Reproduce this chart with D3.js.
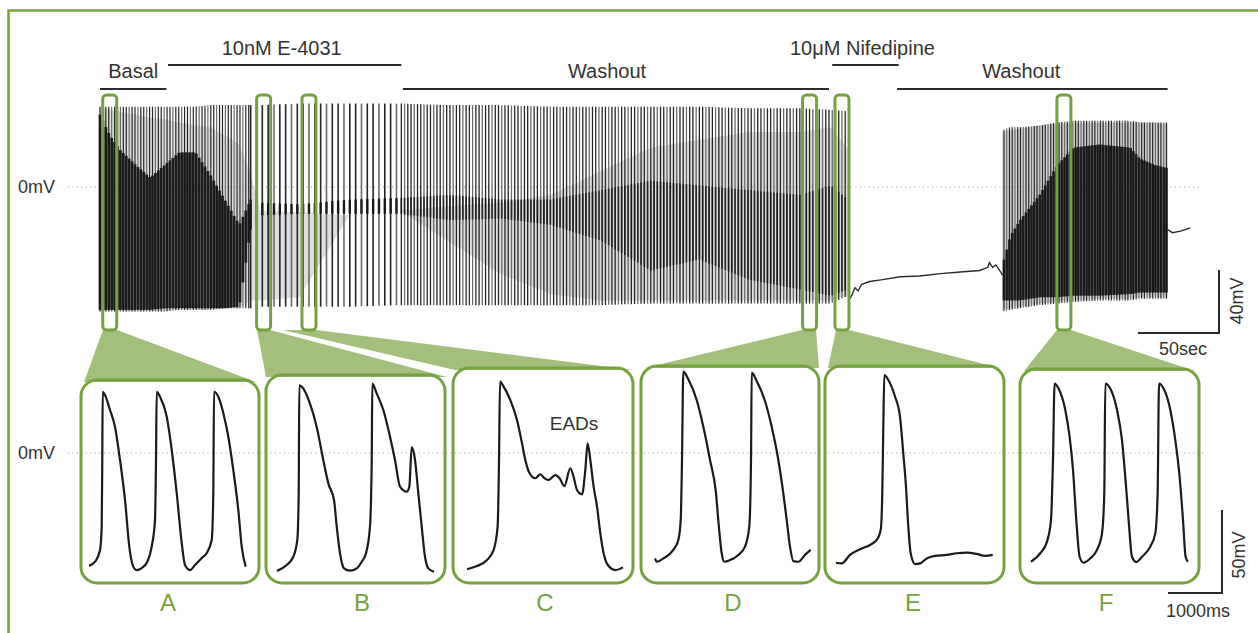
<!DOCTYPE html>
<html>
<head>
<meta charset="utf-8">
<script src="https://cdn.jsdelivr.net/npm/d3@7"></script>
<style>
  body { margin: 0; background: #fff; }
  text { font-family: "Liberation Sans", Arial, sans-serif; }
</style>
</head>
<body>
<svg id="fig" width="1258" height="633"></svg>
<script>
// ---- treatments (seconds on the long recording)
const treatmentNames = ["Basal", "10nM E-4031", "Washout", "10\u03bcM Nifedipine", "Washout"];
const treatmentStart = [0, 42, 187, 452, 492];
const treatmentEnd = [41, 186, 450, 493, 659];

// ---- long recording, first run of beating: envelope samples (s, mV)
const burst1Time = [0, 6, 12, 22, 31, 40, 49, 59, 68, 77, 86, 93, 99, 123, 154, 185, 216, 247, 278, 309, 340, 370, 401, 432, 451, 462];
const burst1Peak = [51, 51, 51, 51, 51, 51, 51, 51, 52, 52, 52, 52, 52, 53, 53, 53, 52, 52, 51, 51, 51, 51, 50, 50, 49, 48];
const burst1Trough = [-79, -79, -79, -79, -79, -79, -78, -78, -78, -77, -77, -77, -76, -76, -76, -75, -75, -75, -75, -75, -74, -74, -74, -74, -74, -69];
const burst1DarkTop = [46, 33, 24, 14, 6, 14, 22, 22, 8, -8, -24, -8, -10, -11, -8, -7, -5, -8, -8, -2, 4, 1, -2, -5, 1, -8];
const burst1DarkBottom = [-78, -78, -78, -78, -78, -77, -77, -77, -77, -77, -76, -27, -18, -17, -17, -17, -21, -20, -24, -34, -53, -46, -59, -65, -69, -65];
const burst1GreyTop = [50, 49, 48, 46, 44, 43, 41, 39, 38, 33, 27, 8, -15, -16, -18, -15, -12, -10, -5, 10, 25, 30, 35, 35, 38, 24];
const burst1GreyBottom = [-79, -79, -79, -79, -79, -79, -78, -78, -78, -77, -77, -72, -72, -70, -18, -15, -35, -55, -68, -72, -72, -72, -72, -72, -72, -69];

// ---- quiescence under nifedipine (s, mV)
const quietTime = [462, 464, 466, 468, 470, 475, 482, 494, 506, 519, 531, 543, 548, 549, 551, 553, 556, 557];
const quietMv = [-72, -69, -64, -66, -62, -60, -59, -57, -56.5, -55, -54, -53, -51, -48, -51, -49.5, -54, -56];

// ---- second run of beating after washout
const burst2Time = [557, 562, 568, 580, 591, 601, 617, 636, 642, 651, 659];
const burst2Peak = [36, 38, 38, 39, 41, 42, 42, 42, 41, 41, 41];
const burst2Trough = [-79, -78, -77, -75, -74, -73, -72, -72, -71, -71, -71];
const burst2DarkTop = [-50, -31, -21, -5, 14, 25, 27, 25, 18, 14, 12];
const burst2DarkBottom = [-72, -72, -72, -70, -70, -69, -69, -68, -67, -67, -67];
const burst2GreyTop = [35, 36, 37, 39, 40, 41, 41, 41, 41, 41, 40];
const burst2GreyBottom = [-78, -77, -76, -74, -73, -72, -71, -71, -70, -70, -70];

// ---- trailing trace
const tailTime = [659, 662, 667, 673];
const tailMv = [-27, -29, -28, -26];

// ---- beating epochs (s) and beat interval (s)
const beatStart = [0, 93, 186, 558];
const beatEnd = [93, 186, 461, 659];
const beatInterval = [1.8, 3.6, 2.0, 1.7];

// ---- expanded snapshots
const snapshotLabels = ["A", "B", "C", "D", "E", "F"];
const snapshotTimes = [6, 101, 129, 438, 458, 595];

const panelATime = [0, 111, 204, 235, 246, 254, 296, 389, 481, 574, 667, 746, 809, 883, 976, 1080, 1161, 1222, 1241, 1254, 1315, 1439, 1532, 1624, 1717, 1778, 1870, 1963, 2087, 2180, 2272, 2302, 2315, 2395, 2487, 2580, 2672, 2765, 2828, 2902];
const panelAMv = [-68, -65.5, -58.4, -44.4, -4.2, 36.9, 34.9, 25.9, 15.8, -4.2, -28.3, -56.4, -67.5, -70.5, -69.3, -65.5, -56.4, -40.4, -4.2, 36.9, 33.9, 21.9, 1.8, -24.1, -54.2, -67.5, -70.5, -67.5, -63.3, -60.2, -52.4, -24.1, 36.9, 33.9, 24.1, 9.8, -10.2, -34.3, -56.4, -68.5];
const panelBTime = [0, 180, 302, 376, 402, 413, 487, 611, 735, 857, 950, 1056, 1106, 1167, 1241, 1352, 1476, 1569, 1648, 1722, 1754, 1765, 1846, 1969, 2093, 2185, 2278, 2402, 2450, 2495, 2556, 2617, 2680, 2741, 2802, 2908];
const panelBMv = [-71, -67.5, -62.5, -52.4, -24.3, 40.8, 38.8, 29.7, 15.7, -4.2, -18.3, -28.3, -44.4, -60.4, -69.5, -70.9, -69.5, -65.5, -60.4, -44.4, -4.2, 41.8, 35.9, 25.9, 9.8, -4.2, -20.3, -23.3, -20.3, 3.4, -4.2, -24.3, -44.4, -62.5, -69.5, -71.5];
const panelCTime = [0, 185, 370, 493, 567, 593, 611, 678, 802, 926, 1019, 1080, 1159, 1265, 1358, 1432, 1511, 1635, 1715, 1802, 1913, 1974, 2037, 2130, 2191, 2234, 2284, 2345, 2408, 2469, 2530, 2622, 2747, 2889];
const panelCMv = [-70, -68.1, -64.5, -58.4, -44.4, -4.2, 43, 40, 31.9, 19.9, 5.8, -4.2, -12.2, -15.2, -12.8, -15.2, -16.3, -13.3, -15.2, -19.9, -9.2, -14.3, -22.3, -24.9, -10.2, 5.8, -4.2, -20.3, -32.3, -48.4, -60.4, -68.1, -70.5, -68.9];
const panelDTime = [0, 31, 154, 339, 432, 476, 500, 524, 617, 772, 895, 1019, 1130, 1172, 1235, 1283, 1389, 1543, 1667, 1746, 1778, 1791, 1883, 2037, 2161, 2284, 2376, 2439, 2500, 2561, 2654, 2778, 2884];
const panelDMv = [-63.5, -65.5, -63.5, -58.4, -52.4, -40.4, -4.2, 49, 44.4, 31.9, 15.8, -4.2, -24.3, -40.4, -60.4, -65.5, -64.5, -61.4, -56.4, -44.4, -4.2, 48.4, 43.4, 31.3, 15.8, -4.2, -24.3, -40.4, -56.4, -65.1, -65.5, -61.4, -58.4];
const panelETime = [0, 106, 259, 444, 630, 754, 828, 857, 876, 895, 969, 1093, 1185, 1246, 1296, 1339, 1383, 1463, 1556, 1680, 1833, 2050, 2235, 2421, 2606, 2759, 2902];
const panelEMv = [-66.1, -66.5, -61.4, -58, -55.4, -52.4, -46.4, -24.3, 15.8, 47, 44, 34, 21.9, -0.2, -20.3, -44.4, -60.4, -66.9, -66.5, -63.5, -62, -61.4, -60.4, -60, -60.8, -62, -61.4];
const panelFTime = [0, 172, 296, 370, 407, 437, 511, 635, 715, 778, 839, 900, 974, 1098, 1222, 1315, 1357, 1376, 1468, 1593, 1685, 1746, 1808, 1870, 1950, 2056, 2209, 2302, 2345, 2371, 2456, 2580, 2672, 2752, 2815, 2863, 2906];
const panelFMv = [-65.5, -60.4, -53.4, -40.4, -4.2, 41.8, 38.8, 25.9, 9.8, -10.2, -40.4, -62.5, -66.1, -63.5, -58.4, -48.4, -24.3, 41.8, 38.8, 25.9, 7.8, -14.3, -40.4, -62.5, -65.7, -62.5, -56.4, -48.4, -24.3, 41.8, 38.8, 25.9, 7.8, -14.3, -40.4, -62.5, -65.5];

const panelTimes = [panelATime, panelBTime, panelCTime, panelDTime, panelETime, panelFTime];
const panelMvs = [panelAMv, panelBMv, panelCMv, panelDMv, panelEMv, panelFMv];

// ---- layout (pixels) and styles
const GREEN = "#74a23f", WEDGE = "#a3bf7c", INK = "#2a2a2a";
const panelBox = [[81, 380, 259, 583], [266, 375, 445, 583], [453, 368, 633, 583], [641, 366, 819, 583], [825, 366, 1004, 583], [1020, 369, 1199, 583]];
const traceStartX = [89, 277, 467, 655, 836, 1031];
const wedgeTop = [[103, 117], [257, 270], [283, 316], [802, 816], [836, 849], [1057, 1071]];
const wedgeFoot = [[84, 256], [266, 447], [455, 633], [645, 819], [828, 1000], [1024, 1195]];
const letterX = [168, 362, 545, 733, 913, 1106];
const labelDx = [0, -3, -9, -3, -11];

const svg = d3.select("#fig");

// frame
svg.append("rect").attr("x", 8.5).attr("y", 10.5).attr("width", 1300).attr("height", 700)
  .attr("fill", "none").attr("stroke", GREEN).attr("stroke-width", 2.5);

// scales of the long recording
const x = d3.scaleLinear().domain([0, 50]).range([100, 181]);
const y = d3.scaleLinear().domain([0, 40]).range([187, 124]);

// scales of the expanded snapshots
const px = d3.scaleLinear().domain([0, 1000]).range([0, 54]);
const py = d3.scaleLinear().domain([0, 50]).range([453, 370]);

// 0 mV references
svg.append("line").attr("x1", 68).attr("x2", 1200).attr("y1", y(0)).attr("y2", y(0))
  .attr("stroke", "#9a9a9a").attr("stroke-dasharray", "1,3.5");
svg.append("line").attr("x1", 68).attr("x2", 1205).attr("y1", py(0)).attr("y2", py(0))
  .attr("stroke", "#9a9a9a").attr("stroke-dasharray", "1,3.5");
svg.append("text").attr("x", 18).attr("y", y(0) + 6).attr("font-size", 18).attr("fill", "#333").text("0mV");
svg.append("text").attr("x", 18).attr("y", py(0) + 6).attr("font-size", 18).attr("fill", "#333").text("0mV");

// treatment bars
treatmentNames.forEach((name, i) => {
  const upper = i % 2 === 1;
  const ly = upper ? 65 : 89;
  const x0 = x(treatmentStart[i]), x1 = x(treatmentEnd[i]);
  svg.append("line").attr("x1", x0).attr("x2", x1).attr("y1", ly).attr("y2", ly)
    .attr("stroke", INK).attr("stroke-width", 1.8);
  svg.append("text").attr("x", (x0 + x1) / 2 + labelDx[i]).attr("y", upper ? 55 : 78)
    .attr("text-anchor", "middle").attr("font-size", 20).attr("fill", "#333").text(name);
});

// wedges (behind the snapshot frames)
wedgeTop.forEach((t, i) => {
  const f = wedgeFoot[i];
  const footY = panelBox[i][1] + 2;
  svg.append("path")
    .attr("d", d3.line()([[t[0], 330], [t[1], 330], [f[1], footY], [f[0], footY]]) + "Z")
    .attr("fill", WEDGE);
});

// long recording
const trace = svg.append("g");
function band(times, top, bottom) {
  return d3.area().x(d => x(d)).y0((d, i) => y(bottom[i])).y1((d, i) => y(top[i]))(times);
}
trace.append("path").attr("d", band(burst1Time, burst1GreyTop, burst1GreyBottom)).attr("fill", "#8e8e8e").attr("opacity", 0.3);
trace.append("path").attr("d", band(burst2Time, burst2GreyTop, burst2GreyBottom)).attr("fill", "#8e8e8e").attr("opacity", 0.4);

const env = (times, vals) => d3.scaleLinear().domain(times).range(vals);
const bursts = [
  {pk: env(burst1Time, burst1Peak), tr: env(burst1Time, burst1Trough),
   dt: env(burst1Time, burst1DarkTop), db: env(burst1Time, burst1DarkBottom)},
  {pk: env(burst2Time, burst2Peak), tr: env(burst2Time, burst2Trough),
   dt: env(burst2Time, burst2DarkTop), db: env(burst2Time, burst2DarkBottom)}
];

// one spike per beat, plus the dense (overlapping) part of each beat
const spikeWidth = [1.2, 1.6, 1.3, 1.2];
const bodyWidth = [2.8, 2.4, 1.7, 2.7];
const bodyOpacity = [0.95, 0.95, 0.8, 0.95];
beatStart.forEach((s, k) => {
  const b = s >= burst2Time[0] ? bursts[1] : bursts[0];
  const beats = d3.range(s, beatEnd[k], beatInterval[k]);
  const g = trace.append("g");
  g.selectAll("line.spike").data(beats).join("line").attr("class", "spike")
    .attr("x1", d => x(d)).attr("x2", d => x(d))
    .attr("y1", d => y(b.tr(d))).attr("y2", d => y(b.pk(d)))
    .attr("stroke", (d, j) => j % 3 === 1 ? "#6a6a6a" : "#262626")
    .attr("stroke-width", spikeWidth[k]);
  g.selectAll("line.body").data(beats).join("line").attr("class", "body")
    .attr("x1", d => x(d)).attr("x2", d => x(d))
    .attr("y1", d => y(b.db(d))).attr("y2", d => y(b.dt(d)))
    .attr("stroke", "#151515")
    .attr("stroke-opacity", bodyOpacity[k])
    .attr("stroke-width", bodyWidth[k]);
});

const traceLine = d3.line().x(d => x(d[0])).y(d => y(d[1]));
trace.append("path").attr("d", traceLine(quietTime.map((t, i) => [t, quietMv[i]])))
  .attr("fill", "none").attr("stroke", INK).attr("stroke-width", 1.4);
trace.append("path").attr("d", traceLine(tailTime.map((t, i) => [t, tailMv[i]])))
  .attr("fill", "none").attr("stroke", INK).attr("stroke-width", 1.4);

// snapshot markers on the long recording
snapshotTimes.forEach(t => {
  svg.append("rect").attr("x", x(t) - 7).attr("y", 95).attr("width", 14).attr("height", 235)
    .attr("rx", 4).attr("fill", "none").attr("stroke", GREEN).attr("stroke-width", 3);
});

// scale bars, long recording
const sbX = 1219, sbY = 333;
svg.append("path")
  .attr("d", `M${sbX},${sbY - (y(0) - y(40))}V${sbY}H${sbX - (x(50) - x(0))}`)
  .attr("fill", "none").attr("stroke", INK).attr("stroke-width", 2);
svg.append("text").attr("transform", `translate(1243,${sbY - 32}) rotate(-90)`)
  .attr("text-anchor", "middle").attr("font-size", 18).attr("fill", "#333").text("40mV");
svg.append("text").attr("x", 1183).attr("y", 355).attr("text-anchor", "middle")
  .attr("font-size", 18).attr("fill", "#333").text("50sec");

// snapshot panels
const apLine = d3.line().curve(d3.curveMonotoneX);
panelBox.forEach((b, i) => {
  svg.append("rect").attr("x", b[0]).attr("y", b[1]).attr("width", b[2] - b[0]).attr("height", b[3] - b[1])
    .attr("rx", 16).attr("fill", "none").attr("stroke", GREEN).attr("stroke-width", 3);
  const x0 = traceStartX[i];
  svg.append("path")
    .attr("d", apLine(panelTimes[i].map((t, j) => [x0 + px(t), py(panelMvs[i][j])])))
    .attr("fill", "none").attr("stroke", "#1a1a1a").attr("stroke-width", 2.2)
    .attr("stroke-linejoin", "round");
  svg.append("text").attr("x", letterX[i]).attr("y", 611).attr("text-anchor", "middle")
    .attr("font-size", 24).attr("fill", GREEN).text(snapshotLabels[i]);
});

svg.append("text").attr("x", 574).attr("y", 430).attr("text-anchor", "middle")
  .attr("font-size", 19).attr("fill", "#333").text("EADs");

// scale bars, snapshots
const sb2X = 1222, sb2Y = 593;
svg.append("path")
  .attr("d", `M${sb2X},${sb2Y - (py(0) - py(50))}V${sb2Y}H${sb2X - px(1000)}`)
  .attr("fill", "none").attr("stroke", INK).attr("stroke-width", 2);
svg.append("text").attr("transform", `translate(1245,555) rotate(-90)`)
  .attr("text-anchor", "middle").attr("font-size", 18).attr("fill", "#333").text("50mV");
svg.append("text").attr("x", 1198).attr("y", 617).attr("text-anchor", "middle")
  .attr("font-size", 18).attr("fill", "#333").text("1000ms");
</script>
</body>
</html>
